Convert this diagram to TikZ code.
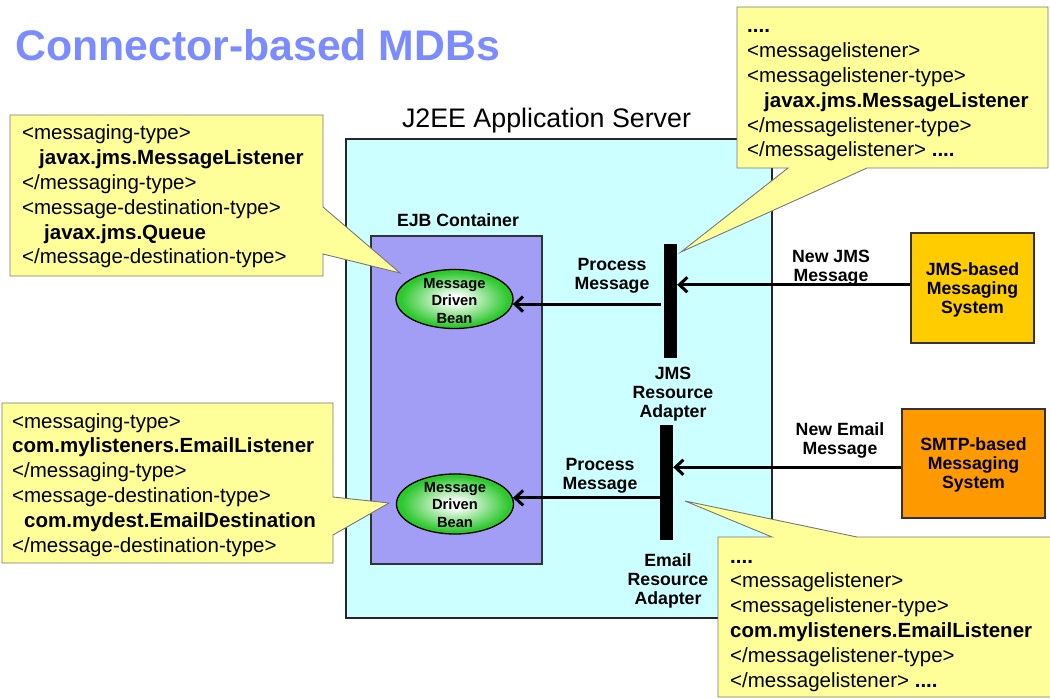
\documentclass[tikz,border=0pt]{standalone}
\usepackage{fontspec}
\setmainfont{Liberation Sans}
\usetikzlibrary{arrows.meta,shapes.geometric}

\definecolor{titleblue}{RGB}{122,140,255}
\definecolor{serverfill}{RGB}{204,255,255}
\definecolor{ejbfill}{RGB}{162,158,246}
\definecolor{notefill}{RGB}{255,255,153}
\definecolor{noteedge}{RGB}{120,120,120}
\definecolor{beangreen}{RGB}{45,200,45}
\definecolor{jmsfill}{RGB}{255,204,0}
\definecolor{smtpfill}{RGB}{255,153,0}

% white-centred green glow for the bean ellipses
\pgfdeclareradialshading{beanglow}{\pgfpoint{0bp}{0bp}}{%
  color(0bp)=(white); color(3bp)=(white); color(23bp)=(beangreen);
  color(50bp)=(beangreen)}

% centred and left-aligned line stacks whose baseline is the first line
\newcommand\cellstack[1]{\vtop{\halign{\hfil##\hfil\cr#1\crcr}}}
\newcommand\leftstack[1]{\vtop{\halign{##\hfil\cr#1\crcr}}}

\begin{document}
\begin{tikzpicture}[x=1pt,y=-1pt,
  every node/.style={inner sep=0pt},
  lbl/.style={anchor=base, font=\fontsize{17.7}{19}\selectfont\bfseries},
  notetext/.style={anchor=base west, font=\fontsize{20.5}{24.8}\selectfont},
  note/.style={fill=notefill, draw=noteedge, line width=0.9pt, line join=miter},
  bean/.style={ellipse, draw=black, line width=1.3pt, shading=beanglow,
    minimum width=117pt,
    font=\fontsize{14.7}{17.5}\selectfont\bfseries},
  rabar/.style={rectangle, fill=black, minimum width=13pt},
  sysbox/.style={rectangle, draw=black!80, line width=1.2pt,
    minimum width=123pt, minimum height=110pt,
    font=\fontsize{17.7}{19}\selectfont\bfseries},
  msgarrow/.style={line width=3pt, -{Straight Barb[length=8pt,width=15pt]}}]

\useasboundingbox (0,0) rectangle (1050,698);
\fill[white] (0,0) rectangle (1050,698);

% title
\node[anchor=base west, text=titleblue, font=\fontsize{42.8}{50}\selectfont\bfseries]
  (title) at (15,61) {Connector-based MDBs};

% application server and EJB container
\node[rectangle, fill=serverfill, draw=black!85, line width=1.3pt,
  minimum width=426pt, minimum height=479pt] (server) at (559,378.5) {};
\node[anchor=base, font=\fontsize{26.8}{30}\selectfont] (serverlbl) at (546.5,128)
  {J2EE Application Server};
\node[rectangle, fill=ejbfill, draw=black!80, line width=1.2pt,
  minimum width=171pt, minimum height=328pt] (ejb) at (456.5,400) {};
\node[lbl] (ejblbl) at (458,226) {EJB Container};

% message driven beans
\node[bean, text height=8pt, text depth=30pt, minimum height=59pt] (mdb1) at (454.5,299)
  {\cellstack{Message\cr Driven\cr Bean}};
\node[bean, text height=8pt, text depth=32pt, minimum height=60pt] (mdb2) at (455,504)
  {\cellstack{Message\cr Driven\cr Bean}};

% resource adapters
\node[rabar, minimum height=114pt] (jmsbar) at (670.5,301) {};
\node[rabar, minimum height=115pt] (emailbar) at (666.5,482.5) {};
\node[lbl] (jmsralbl) at (673,379) {\cellstack{JMS\cr Resource\cr Adapter}};
\node[lbl] (emailralbl) at (668,566) {\cellstack{Email\cr Resource\cr Adapter}};

% messaging systems
\node[sysbox, fill=jmsfill, text height=6pt, text depth=32pt] (jmssys) at (972.5,288)
  {\cellstack{JMS-based\cr Messaging\cr System}};
\node[sysbox, fill=smtpfill, minimum width=143pt, minimum height=109pt,
  text height=6pt, text depth=33pt] (smtpsys) at (973.5,463.5)
  {\cellstack{SMTP-based\cr Messaging\cr System}};

% message flow
\draw[msgarrow] (jmssys.177) -- (jmssys.177 -| jmsbar.east);
\draw[msgarrow] (smtpsys.183) -- (smtpsys.183 -| emailbar.east);
\draw[msgarrow] ([xshift=-3pt]jmsbar.west |- mdb1.-5) -- (mdb1.-5);
\draw[msgarrow] (emailbar.west |- mdb2.6) -- (mdb2.6);
\node[lbl] (newjms) at (831,262) {\cellstack{New JMS\cr Message}};
\node[lbl] (newemail) at (840,435) {\cellstack{New Email\cr Message}};
\node[lbl] (proc1) at (612,270) {\cellstack{Process\cr Message}};
\node[lbl] (proc2) at (600,470) {\cellstack{Process\cr Message}};

% deployment descriptor notes
\draw[note] (10,115) -- (323,115) -- (323,207) -- (400,273) -- (323,254)
  -- (323,276) -- (10,276) -- cycle;
\node[notetext] (note1) at (22,140) {\leftstack{%
  <messaging-type>\cr
  \kern17pt\bfseries javax.jms.MessageListener\cr
  </messaging-type>\cr
  <message-destination-type>\cr
  \kern22pt\bfseries javax.jms.Queue\cr
  </message-destination-type>}};

\draw[note] (737,7) -- (1048,7) -- (1048,168) -- (867,168) -- (681,252)
  -- (788,168) -- (737,168) -- cycle;
\node[notetext] (note2) at (747,33) {\leftstack{%
  \bfseries ....\cr
  <messagelistener>\cr
  <messagelistener-type>\cr
  \kern17pt\bfseries javax.jms.MessageListener\cr
  </messagelistener-type>\cr
  </messagelistener> \textbf{....}}};

\draw[note] (2,403) -- (333,403) -- (333,497) -- (389,503) -- (333,535)
  -- (333,563) -- (2,563) -- cycle;
\node[notetext] (note3) at (12,428) {\leftstack{%
  <messaging-type>\cr
  \bfseries com.mylisteners.EmailListener\cr
  </messaging-type>\cr
  <message-destination-type>\cr
  \kern12pt\bfseries com.mydest.EmailDestination\cr
  </message-destination-type>}};

\draw[note] (718,537) -- (772,537) -- (685,501) -- (857,537) -- (1056,537)
  -- (1056,697) -- (718,697) -- cycle;
\node[notetext] (note4) at (730,563) {\leftstack{%
  \bfseries ....\cr
  <messagelistener>\cr
  <messagelistener-type>\cr
  \bfseries com.mylisteners.EmailListener\cr
  </messagelistener-type>\cr
  </messagelistener> \textbf{....}}};
\end{tikzpicture}
\end{document}
